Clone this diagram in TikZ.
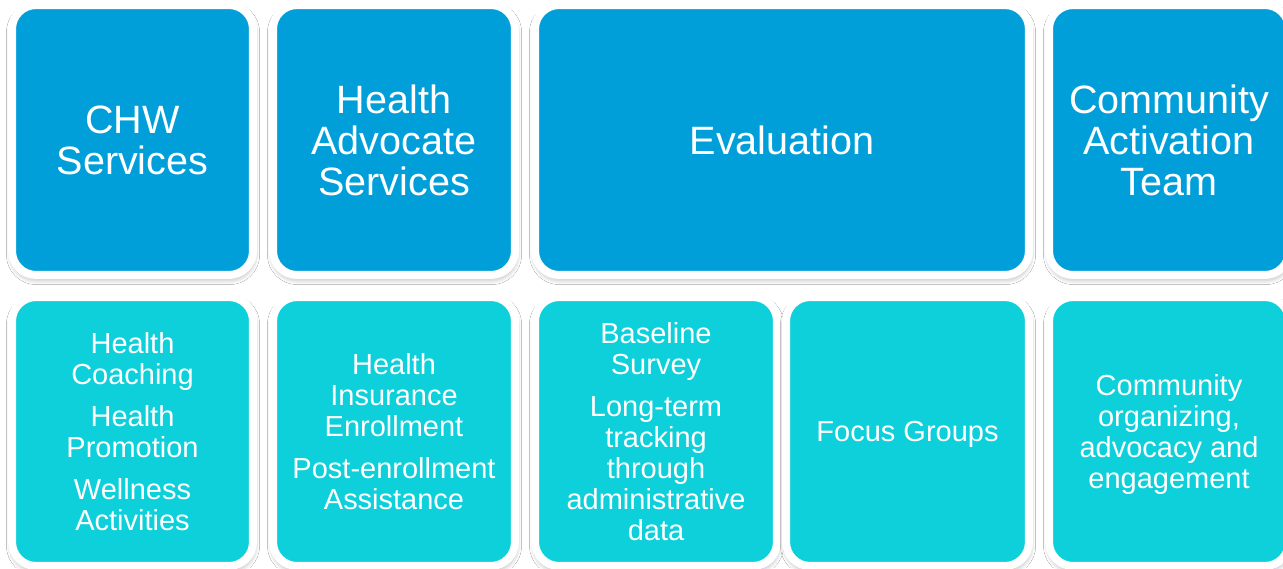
\documentclass[tikz,border=0pt]{standalone}
\usepackage{fontspec}
\setmainfont{Liberation Sans}
\usetikzlibrary{shadows.blur}
\definecolor{topblue}{RGB}{0,159,218}
\definecolor{lowcyan}{RGB}{13,208,218}
\tikzset{
	box/.style={draw=white, line width=0.16cm, rounded corners=0.48cm,
		text=white, align=center, inner sep=0pt,
		blur shadow={shadow xshift=0.3pt, shadow yshift=-2pt,
			shadow blur radius=3.5pt, shadow opacity=40}},
	topbox/.style={box, fill=topblue, minimum height=5.4cm,
		font=\fontsize{22.5}{23.3}\selectfont},
	lowbox/.style={box, fill=lowcyan, minimum height=5.38cm,
		font=\fontsize{16.5}{17.6}\selectfont},
}

\begin{document}
\begin{tikzpicture}[x=0.02cm, y=-0.02cm]
	\useasboundingbox (0,0) rectangle (1283,568);
	\fill[white] (0,0) rectangle (1283,568);
	\clip (0,0) rectangle (1283,568);
%
	% top row
	\node[topbox, minimum width=4.82cm] (chw) at (132.5,140) {CHW\\Services};
	\node[topbox, minimum width=4.84cm] (advocate) at (394,140) {Health\\Advocate\\Services};
	\node[topbox, minimum width=9.88cm] (evaluation) at (782,140) {Evaluation};
	\node[topbox, minimum width=4.80cm] (activation) at (1169,140) {Community\\Activation\\Team};
%
	% bottom row
	\node[lowbox, minimum width=4.82cm] (coaching) at (132.5,431.5)
		{Health\\Coaching\\[6.2pt]Health\\Promotion\\[6.2pt]Wellness\\Activities};
	\node[lowbox, minimum width=4.84cm] (enrollment) at (394,431.5)
		{Health\\Insurance\\Enrollment\\[6.2pt]Post-enrollment\\Assistance};
	\node[lowbox, minimum width=4.84cm] (baseline) at (656,431.5)
		{Baseline\\Survey\\[6.2pt]Long-term\\tracking\\through\\administrative\\data};
	\node[lowbox, minimum width=4.86cm, text depth=0pt] (focus) at (907.5,431.5) {Focus Groups};
	\node[lowbox, minimum width=4.80cm, text depth=0pt] (organizing) at (1169,431.5)
		{Community\\organizing,\\advocacy and\\engagement};
\end{tikzpicture}
\end{document}
